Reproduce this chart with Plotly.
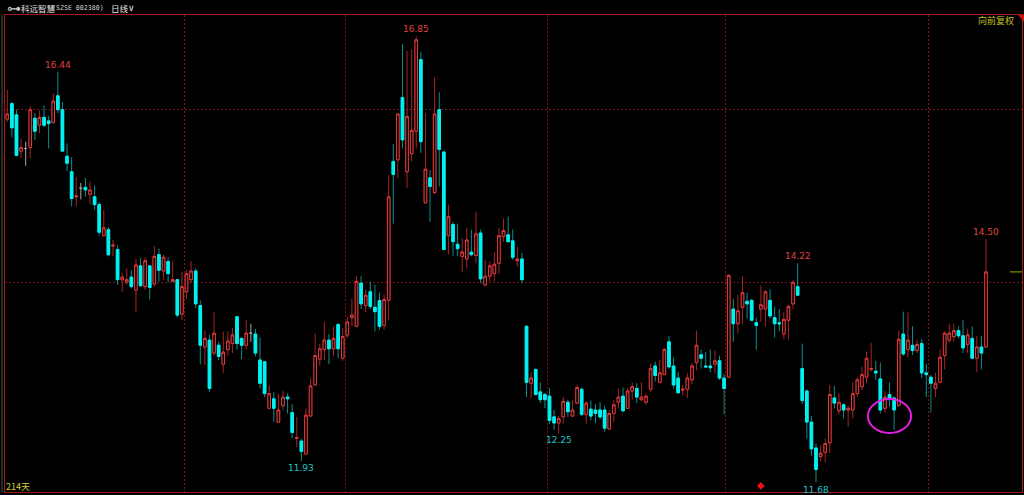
import plotly.graph_objects as go

# ---------------- data (daily candles, 214 trading days) ----------------
days = list(range(214))

open_ = [
    15.89, 16.07, 15.94, 15.52, 15.55, 15.56, 15.90, 15.82, 15.91, 15.87,
    15.85, 16.16, 16.00, 15.46, 15.28, 14.99, 15.09, 15.10, 15.02, 14.99,
    14.90, 14.54, 14.61, 14.42, 14.38, 14.03, 14.00, 14.06, 13.91, 14.19,
    13.95, 14.19, 13.98, 14.32, 14.13, 14.24, 14.01, 14.03, 13.63, 13.89,
    14.03, 14.13, 13.73, 13.25, 13.33, 13.18, 13.27, 13.05, 13.22, 13.29,
    13.60, 13.35, 13.27, 13.41, 13.40, 13.10, 13.08, 12.54, 12.65, 12.38,
    12.57, 12.67, 12.49, 12.19, 12.16, 12.01, 12.45, 12.81, 13.11, 13.22,
    13.33, 13.23, 13.51, 13.12, 13.39, 13.59, 13.49, 13.99, 13.73, 13.89,
    13.71, 13.79, 13.50, 13.79, 15.40, 15.42, 16.14, 15.28, 15.49, 15.75,
    16.58, 14.92, 15.21, 15.04, 16.00, 15.51, 14.54, 14.67, 14.44, 14.30,
    14.27, 14.35, 14.31, 14.57, 13.97, 14.07, 14.10, 14.22, 14.53, 14.55,
    14.48, 14.25, 14.27, 13.49, 12.83, 12.99, 12.73, 12.70, 12.68, 12.44,
    12.37, 12.44, 12.61, 12.45, 12.60, 12.76, 12.47, 12.53, 12.52, 12.52,
    12.52, 12.30, 12.48, 12.61, 12.68, 12.54, 12.74, 12.77, 12.64, 12.61,
    12.76, 13.03, 12.84, 12.93, 13.31, 13.03, 12.89, 12.75, 12.76, 12.87,
    13.07, 13.16, 13.03, 13.03, 13.05, 13.09, 12.89, 12.90, 13.69, 13.52,
    13.71, 13.78, 13.79, 13.53, 13.69, 13.69, 13.79, 13.59, 13.53, 13.40,
    13.56, 13.75, 13.95, 13.00, 12.74, 12.38, 12.08, 11.98, 12.03, 12.14,
    12.66, 12.51, 12.58, 12.52, 12.52, 12.71, 12.79, 12.90, 12.99, 12.97,
    12.88, 12.54, 12.70, 12.66, 12.57, 13.40, 13.22, 13.27, 13.21, 13.29,
    12.95, 12.90, 12.77, 12.84, 13.15, 13.33, 13.37, 13.44, 13.38, 13.28,
    13.35, 13.12, 13.25, 13.25,
]

high_ = [
    16.23, 16.09, 16.00, 15.66, 15.63, 16.04, 15.96, 15.99, 16.05, 15.93,
    16.19, 16.44, 16.09, 15.61, 15.45, 15.22, 15.15, 15.21, 15.17, 15.12,
    14.93, 14.84, 14.64, 14.49, 14.43, 14.11, 14.16, 14.14, 14.27, 14.28,
    14.29, 14.20, 14.42, 14.39, 14.32, 14.29, 14.25, 14.03, 14.12, 14.14,
    14.25, 14.16, 13.79, 13.44, 13.39, 13.65, 13.31, 13.43, 13.43, 13.47,
    13.60, 13.36, 13.56, 13.52, 13.46, 13.36, 13.08, 12.81, 12.73, 12.71,
    12.74, 12.71, 12.59, 12.44, 12.19, 12.54, 12.89, 13.41, 13.29, 13.54,
    13.40, 13.49, 13.53, 13.47, 13.60, 13.81, 14.07, 14.07, 13.92, 14.01,
    13.97, 13.88, 13.86, 15.24, 15.60, 15.95, 16.76, 16.68, 16.70, 16.85,
    16.67, 15.96, 15.30, 16.38, 16.20, 15.51, 14.90, 14.70, 14.68, 14.51,
    14.63, 14.61, 14.82, 14.61, 14.26, 14.24, 14.35, 14.63, 14.74, 14.76,
    14.61, 14.41, 14.34, 13.50, 12.96, 13.00, 12.84, 12.72, 12.77, 12.52,
    12.45, 12.67, 12.64, 12.63, 12.81, 12.78, 12.62, 12.63, 12.59, 12.61,
    12.57, 12.52, 12.64, 12.77, 12.78, 12.77, 12.84, 12.83, 12.84, 12.71,
    13.06, 13.08, 13.10, 13.24, 13.38, 13.13, 12.96, 12.81, 12.95, 13.06,
    13.44, 13.22, 13.19, 13.22, 13.21, 13.15, 12.94, 14.09, 13.81, 13.85,
    14.07, 13.88, 13.81, 13.59, 13.96, 13.91, 13.92, 13.72, 13.69, 13.66,
    13.74, 14.02, 14.22, 13.29, 12.76, 12.45, 12.13, 12.11, 12.19, 12.81,
    12.80, 12.71, 12.60, 12.57, 12.84, 12.90, 13.02, 13.20, 13.30, 13.09,
    13.07, 12.74, 12.84, 12.67, 13.44, 13.66, 13.65, 13.49, 13.33, 13.34,
    13.05, 12.93, 12.95, 13.22, 13.43, 13.52, 13.52, 13.49, 13.56, 13.46,
    13.49, 13.38, 13.38, 14.50,
]

low_ = [
    15.86, 15.68, 15.46, 15.44, 15.35, 15.44, 15.65, 15.73, 15.80, 15.55,
    15.84, 15.96, 15.51, 15.29, 14.88, 14.88, 14.96, 14.99, 14.90, 14.84,
    14.54, 14.53, 14.30, 14.30, 13.97, 13.89, 13.97, 13.93, 13.66, 13.95,
    13.91, 13.80, 13.95, 14.01, 14.03, 14.00, 14.01, 13.59, 13.56, 13.81,
    13.99, 13.70, 13.05, 13.04, 12.73, 13.15, 13.10, 12.95, 13.15, 13.18,
    13.22, 13.11, 13.22, 13.31, 13.14, 12.77, 12.67, 12.53, 12.38, 12.38,
    12.52, 12.48, 12.19, 12.09, 11.93, 12.01, 12.45, 12.81, 13.03, 13.10,
    13.05, 13.14, 13.12, 13.09, 13.35, 13.49, 13.48, 13.69, 13.65, 13.69,
    13.43, 13.45, 13.45, 13.56, 14.68, 15.21, 15.55, 15.09, 15.40, 15.55,
    15.50, 14.92, 14.70, 15.02, 15.11, 14.38, 14.32, 14.30, 14.30, 14.12,
    14.16, 14.30, 14.22, 13.99, 13.95, 14.01, 14.01, 14.10, 14.47, 14.47,
    14.26, 14.18, 13.99, 12.67, 12.65, 12.69, 12.60, 12.54, 12.36, 12.29,
    12.25, 12.36, 12.44, 12.44, 12.59, 12.45, 12.36, 12.40, 12.37, 12.41,
    12.27, 12.29, 12.38, 12.54, 12.50, 12.53, 12.64, 12.60, 12.62, 12.58,
    12.73, 12.85, 12.83, 12.93, 13.00, 12.77, 12.71, 12.69, 12.66, 12.82,
    12.98, 13.00, 13.01, 12.96, 12.95, 12.87, 12.47, 12.89, 13.31, 13.41,
    13.52, 13.58, 13.55, 13.22, 13.54, 13.49, 13.58, 13.36, 13.43, 13.34,
    13.34, 13.69, 13.85, 12.59, 12.19, 11.99, 11.68, 11.92, 11.91, 12.02,
    12.54, 12.47, 12.42, 12.33, 12.42, 12.67, 12.75, 12.83, 12.96, 12.87,
    12.48, 12.49, 12.56, 12.29, 12.56, 13.15, 13.13, 13.16, 13.18, 12.89,
    12.67, 12.49, 12.67, 12.83, 12.99, 13.30, 13.31, 13.35, 13.18, 13.18,
    13.11, 12.96, 12.99, 13.24,
]

close_ = [
    15.95, 15.79, 15.47, 15.56, 15.55, 16.00, 15.75, 15.91, 15.82, 15.84,
    16.10, 16.00, 15.52, 15.38, 14.97, 15.00, 15.09, 15.07, 15.07, 14.90,
    14.58, 14.63, 14.32, 14.43, 14.03, 14.06, 14.03, 13.95, 14.20, 13.96,
    14.25, 13.94, 14.30, 14.14, 14.29, 14.10, 14.03, 13.62, 13.95, 14.10,
    14.13, 13.75, 13.27, 13.35, 12.77, 13.41, 13.14, 13.19, 13.32, 13.39,
    13.29, 13.27, 13.41, 13.41, 13.18, 12.83, 12.71, 12.71, 12.54, 12.52,
    12.67, 12.65, 12.26, 12.20, 12.04, 12.46, 12.80, 13.15, 13.23, 13.33,
    13.23, 13.35, 13.23, 13.37, 13.54, 13.62, 14.01, 13.75, 13.85, 13.72,
    13.66, 13.49, 13.80, 14.99, 15.25, 15.95, 15.65, 15.92, 15.76, 16.81,
    15.63, 15.31, 15.11, 15.95, 15.54, 14.38, 14.76, 14.47, 14.39, 14.35,
    14.49, 14.32, 14.56, 14.04, 14.07, 14.19, 14.21, 14.54, 14.60, 14.47,
    14.29, 14.27, 14.03, 12.84, 12.89, 12.70, 12.64, 12.64, 12.40, 12.37,
    12.42, 12.62, 12.50, 12.52, 12.78, 12.47, 12.60, 12.45, 12.48, 12.44,
    12.31, 12.48, 12.58, 12.67, 12.51, 12.74, 12.79, 12.67, 12.67, 12.68,
    13.00, 12.92, 12.95, 13.22, 13.02, 12.81, 12.72, 12.76, 12.89, 13.03,
    13.27, 13.12, 13.02, 13.01, 13.09, 12.89, 12.77, 14.08, 13.52, 13.67,
    13.88, 13.75, 13.56, 13.50, 13.74, 13.89, 13.61, 13.52, 13.52, 13.57,
    13.72, 14.00, 13.85, 12.63, 12.38, 12.07, 11.83, 12.02, 12.13, 12.70,
    12.60, 12.61, 12.52, 12.54, 12.71, 12.87, 12.93, 13.12, 13.00, 12.95,
    12.52, 12.67, 12.66, 12.52, 13.34, 13.17, 13.33, 13.21, 13.28, 12.95,
    12.93, 12.83, 12.83, 13.13, 13.41, 13.41, 13.44, 13.38, 13.24, 13.39,
    13.12, 13.25, 13.18, 14.12,
]

high_marks = [11, 89, 172, 213]      # labelled local highs
low_marks = [64, 120, 176]           # labelled local lows
event_days = [164]                   # red diamond event marker
event_price = [11.64]
month_breaks = [38.5, 73.6, 117.5, 156.4, 200.4]
price_grid = [14.0, 16.0]

# ---------------- styling ----------------
UP_BODY, UP_WICK = "#e23a3c", "#a82424"
DN_BODY, DN_WICK = "#00f2f2", "#0a8f8f"
FLAT = "#a8a8a8"
FRAME = "#a01818"
GRID = "#7c1515"

W, H = 1024, 495
ML, MR, MT, MB = 5, 2, 15, 3
PW, PH = W - ML - MR, H - MT - MB


def px_x(px):
    return (px - ML) / PW


def px_y(py):
    return (H - MB - py) / PH


up = [i for i in days if close_[i] > open_[i]]
dn = [i for i in days if close_[i] < open_[i]]
fl = [i for i in days if close_[i] == open_[i]]


def candle(idx, body_only, line_color, fill):
    o = [open_[i] for i in idx]
    c = [close_[i] for i in idx]
    if body_only:
        h = [max(open_[i], close_[i]) for i in idx]
        l = [min(open_[i], close_[i]) for i in idx]
    else:
        h = [high_[i] for i in idx]
        l = [low_[i] for i in idx]
    style = dict(line=dict(color=line_color, width=1), fillcolor=fill)
    return go.Candlestick(
        x=[days[i] for i in idx], open=o, high=h, low=l, close=c,
        increasing=style, decreasing=style, whiskerwidth=0,
        showlegend=False, hoverinfo="skip",
    )


fig = go.Figure()
fig.add_trace(candle(up, False, UP_WICK, "#000000"))
fig.add_trace(candle(up, True, UP_BODY, "#000000"))
fig.add_trace(candle(dn, False, DN_WICK, DN_BODY))
fig.add_trace(candle(dn, True, DN_BODY, DN_BODY))
fig.add_trace(candle(fl, False, FLAT, FLAT))

fig.add_trace(go.Scatter(
    x=event_days, y=event_price, mode="markers",
    marker=dict(symbol="diamond", size=6, color="#e81010"),
    showlegend=False, hoverinfo="skip",
))

annotations = []
for i in high_marks:
    annotations.append(dict(
        x=days[i], y=high_[i], xref="x", yref="y", text=f"{high_[i]:.2f}",
        showarrow=False, yanchor="bottom", xanchor="center", yshift=0,
        font=dict(size=9, color="#e04040", family="DejaVu Sans"),
    ))
for i in low_marks:
    annotations.append(dict(
        x=days[i], y=low_[i], xref="x", yref="y", text=f"{low_[i]:.2f}",
        showarrow=False, yanchor="top", xanchor="center", yshift=0,
        font=dict(size=9, color="#1ec4cc", family="DejaVu Sans"),
    ))

title_y = px_y(8)
annotations += [
    dict(x=px_x(5), y=title_y, xref="paper", yref="paper", text="⊶",
         showarrow=False, xanchor="left", yanchor="middle",
         font=dict(size=14, color="#c8c8c8", family="DejaVu Sans")),
    dict(x=px_x(19), y=title_y, xref="paper", yref="paper", text="科远智慧",
         showarrow=False, xanchor="left", yanchor="middle",
         font=dict(size=8.5, color="#e6e6e6", family="Noto Sans CJK SC")),
    dict(x=px_x(50), y=title_y, xref="paper", yref="paper", text="(SZSE 002380)",
         showarrow=False, xanchor="left", yanchor="middle",
         font=dict(size=6.6, color="#d8d8d8", family="DejaVu Sans Mono")),
    dict(x=px_x(109), y=title_y, xref="paper", yref="paper", text="日线",
         showarrow=False, xanchor="left", yanchor="middle",
         font=dict(size=8.5, color="#e6e6e6", family="Noto Sans CJK SC")),
    dict(x=px_x(126), y=title_y, xref="paper", yref="paper", text="∨",
         showarrow=False, xanchor="left", yanchor="middle",
         font=dict(size=9, color="#e6e6e6", family="DejaVu Sans")),
    dict(x=px_x(1016), y=px_y(20.5), xref="paper", yref="paper", text="向前复权",
         showarrow=False, xanchor="right", yanchor="middle",
         font=dict(size=9, color="#c8c020", family="Noto Sans CJK SC")),
    dict(x=px_x(4), y=px_y(486.5), xref="paper", yref="paper", text="214天",
         showarrow=False, xanchor="left", yanchor="middle",
         font=dict(size=9, color="#d4d030", family="Noto Sans CJK SC")),
]

# cursor ellipse highlight (drawn annotation)
shapes = [
    dict(type="circle", xref="x", yref="y", x0=187.3, x1=196.7, y0=12.254, y1=12.648,
         line=dict(color="#e020e0", width=2)),
    dict(type="line", xref="paper", yref="y", x0=px_x(1010), x1=px_x(1022),
         y0=close_[-1], y1=close_[-1], line=dict(color="#a8a800", width=1)),
    dict(type="line", xref="paper", yref="paper", x0=px_x(2), x1=px_x(2), y0=0, y1=1,
         line=dict(color="#505050", width=1)),
    dict(type="path", xref="paper", yref="paper",
         path=f"M {px_x(1018)},{px_y(15)} L {px_x(1024)},{px_y(15)} L {px_x(1024)},{px_y(22)} Z",
         fillcolor="#d01010", line=dict(width=0)),
]

fig.update_layout(
    width=W, height=H,
    margin=dict(l=ML, r=MR, t=MT, b=MB, pad=0),
    paper_bgcolor="#000000", plot_bgcolor="#000000",
    hovermode=False, showlegend=False, boxgap=0.2,
    annotations=annotations, shapes=shapes,
    xaxis=dict(
        type="linear", range=[-0.5, 220.83], rangeslider=dict(visible=False),
        tickvals=month_breaks, showticklabels=False, ticks="",
        showgrid=True, gridcolor=GRID, gridwidth=1, griddash="2px,2px",
        zeroline=False, showline=True, linecolor=FRAME, linewidth=1, mirror=True,
    ),
    yaxis=dict(
        range=[11.570, 17.097], tickvals=price_grid, showticklabels=False, ticks="",
        showgrid=True, gridcolor=GRID, gridwidth=1, griddash="2px,2px",
        zeroline=False, showline=True, linecolor=FRAME, linewidth=1, mirror=True,
    ),
)

fig.write_html(
    "out.html",
    config={"displayModeBar": False},
    post_script="document.body.style.margin='0px';document.body.style.overflow='hidden';"
                "document.body.style.background='#000';",
)
